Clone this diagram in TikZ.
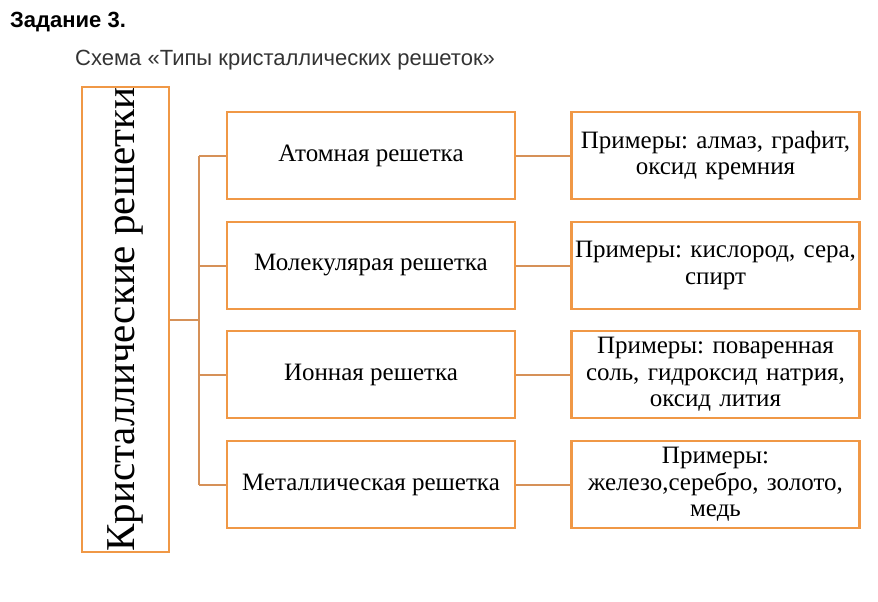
\documentclass[tikz,border=0pt]{standalone}
\usepackage{fontspec}
\setmainfont{Liberation Serif}
\newfontfamily\arialfont{Liberation Sans}
\frenchspacing
\definecolor{boxorange}{RGB}{240,152,70}
\definecolor{linkbrown}{RGB}{214,145,88}
\tikzset{
  lattbox/.style={draw=boxorange, line width=2.2pt, minimum width=288pt, minimum height=87pt,
    inner sep=2pt, font=\fontsize{25}{26.5}\selectfont, align=center},
  examplebox/.style={lattbox, text width=284pt},
  link/.style={draw=linkbrown, line width=2pt}
}
\begin{document}
\begin{tikzpicture}[x=1pt,y=-1pt]
  \useasboundingbox (0,0) rectangle (878,602);
  % headings
  \node[anchor=base west, inner sep=0pt, font=\arialfont\bfseries\fontsize{22}{26}\selectfont] (task) at (10,28) {Задание 3.};
  \node[anchor=base west, inner sep=0pt, font=\arialfont\fontsize{22}{26}\selectfont, text=black!80] (caption) at (75,66) {Схема «Типы кристаллических решеток»};
  % main box
  \node[draw=boxorange, line width=2.2pt, rotate=90, minimum width=461pt, minimum height=87pt,
    inner sep=0pt, font=\fontsize{41}{44}\selectfont] (lattice) at (125.5,319.5) {Кристаллические решетки};
  % types
  \node[lattbox] (atom) at (371,155.5) {Атомная решетка};
  \node[lattbox] (molec) at (371,265.5) {Молекулярая решетка};
  \node[lattbox] (ion) at (371,374.5) {Ионная решетка};
  \node[lattbox] (metal) at (371,484.5) {Металлическая решетка};
  % examples
  \node[examplebox] (atomex) at (715.5,155.5) {Примеры: алмаз, графит,\\оксид кремния};
  \node[examplebox] (molecex) at (715.5,265.5) {Примеры: кислород, сера,\\спирт};
  \node[examplebox] (ionex) at (715.5,374.5) {Примеры: поваренная\\соль, гидроксид натрия,\\оксид лития};
  \node[examplebox] (metalex) at (715.5,484.5) {Примеры:\\железо,серебро, золото,\\медь};
  \coordinate (trunk) at (199,320);
  \begin{scope}[link]
    \draw (lattice.south |- trunk) -- (trunk);
    \draw (trunk |- atom) -- (trunk |- metal);
    \draw (trunk |- atom) -- (atom.west);
    \draw (trunk |- molec) -- (molec.west);
    \draw (trunk |- ion) -- (ion.west);
    \draw (trunk |- metal) -- (metal.west);
    \draw (atom) -- (atomex);
    \draw (molec) -- (molecex);
    \draw (ion) -- (ionex);
    \draw (metal) -- (metalex);
  \end{scope}
\end{tikzpicture}
\end{document}
